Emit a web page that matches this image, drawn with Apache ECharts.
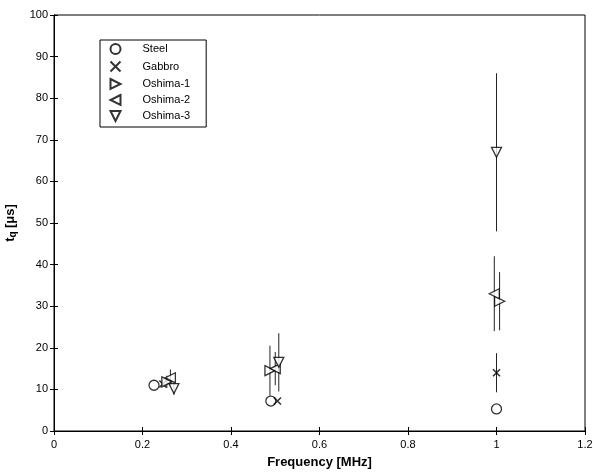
<!DOCTYPE html>
<html style="height: 100%">
<head>
    <meta charset="utf-8">
    <title>tq vs frequency</title>
</head>
<body style="height: 100%; margin: 0; background: #fff">
<div id="container" style="width: 593px; height: 475px"></div>
<script type="text/javascript" src="https://cdn.jsdelivr.net/npm/echarts@6/dist/echarts.min.js"></script>
<script type="text/javascript">
    var myChart = echarts.init(document.getElementById('container'));

    // frequency [MHz], tq [us], error half-length [us]
    var steelFreq = [0.226, 0.49, 1.0];
    var steelTq = [11, 7.2, 5.3];

    var gabbroFreq = [0.246, 0.505, 1.0];
    var gabbroTq = [11.3, 7.2, 14];
    var gabbroErr = [0, 0, 4.7];

    var oshima1Freq = [0.255, 0.488, 1.007];
    var oshima1Tq = [11.8, 14.5, 31.2];
    var oshima1Err = [1.5, 6, 7];

    var oshima2Freq = [0.263, 0.5, 0.995];
    var oshima2Tq = [12.8, 15, 33];
    var oshima2Err = [2, 4, 9];

    var oshima3Freq = [0.271, 0.508, 1.0];
    var oshima3Tq = [10.2, 16.5, 67];
    var oshima3Err = [1.5, 7, 19];

    var font = 'Liberation Sans';

    // marker shapes (triangles pointing right / left / down)
    var triRight = 'path://M0,0L10,5L0,10Z';
    var triLeft = 'path://M10,0L0,5L10,10Z';
    var triDown = 'path://M0,0L10,0L5,10Z';
    var cross = 'path://M0,0L10,10M10,0L0,10';

    function pts(xs, ys) {
        return xs.map(function (x, i) { return [x, ys[i]]; });
    }
    function bars(xs, ys, es) {
        var out = [];
        xs.forEach(function (x, i) {
            if (es[i] > 0) out.push([x, ys[i] - es[i], ys[i] + es[i]]);
        });
        return out;
    }

    var errData = []
        .concat(bars(gabbroFreq, gabbroTq, gabbroErr))
        .concat(bars(oshima1Freq, oshima1Tq, oshima1Err))
        .concat(bars(oshima2Freq, oshima2Tq, oshima2Err))
        .concat(bars(oshima3Freq, oshima3Tq, oshima3Err));

    var markStyle = { color: '#fff', borderColor: '#000', borderWidth: 1.3 };

    var option = {
        animation: false,
        backgroundColor: '#fff',
        grid: { left: 54, right: 8, top: 15, bottom: 44, outerBoundsMode: 'none', containLabel: false,
            show: true, borderColor: '#000', borderWidth: 1 },
        legend: {
            left: 100, top: 40,
            orient: 'vertical',
            backgroundColor: '#fff',
            borderColor: '#000', borderWidth: 1,
            padding: [3, 16, 5, 8],
            itemWidth: 10, itemHeight: 10, itemGap: 4,
            textStyle: { fontFamily: font, fontSize: 11, lineHeight: 10, color: '#000', padding: [0, 0, 0, 17] },
            data: [
                { name: 'Steel', icon: 'circle' },
                { name: 'Gabbro', icon: cross },
                { name: 'Oshima-1', icon: triRight },
                { name: 'Oshima-2', icon: triLeft },
                { name: 'Oshima-3', icon: triDown }
            ]
        },
        xAxis: [{
            type: 'value', min: 0, max: 1.2, interval: 0.2,
            name: 'Frequency [MHz]', nameLocation: 'middle', nameGap: 25,
            nameTextStyle: { fontFamily: font, fontSize: 13, fontWeight: 'bold', color: '#000' },
            axisLine: { onZero: false, lineStyle: { color: '#000' } },
            axisTick: { inside: true, length: 4, lineStyle: { color: '#000' } },
            axisLabel: { fontFamily: font, fontSize: 11, color: '#000', margin: 8,
                formatter: function (v) { return String(Math.round(v * 10) / 10); } },
            splitLine: { show: false }
        }, {
            type: 'value', min: 0, max: 1.2, interval: 0.2, position: 'top',
            axisLine: { lineStyle: { color: '#000' } },
            axisTick: { inside: true, length: 4, lineStyle: { color: '#000' } },
            axisLabel: { show: false }, splitLine: { show: false }
        }],
        yAxis: [{
            type: 'value', min: 0, max: 100, interval: 10,
            name: '{t|t}{q|q} {t|[μs]}', nameLocation: 'middle', nameGap: 28, nameRotate: 90,
            nameTextStyle: { rich: {
                t: { fontFamily: font, fontSize: 13, fontWeight: 'bold', color: '#000' },
                q: { fontFamily: font, fontSize: 10, fontWeight: 'bold', color: '#000', verticalAlign: 'bottom', padding: [6, 0, 0, 0] }
            } },
            axisLine: { lineStyle: { color: '#000' } },
            axisTick: { inside: true, length: 4, lineStyle: { color: '#000' } },
            axisLabel: { fontFamily: font, fontSize: 11, color: '#000', margin: 6 },
            splitLine: { show: false }
        }, {
            type: 'value', min: 0, max: 100, interval: 10, position: 'right',
            axisLine: { lineStyle: { color: '#000' } },
            axisTick: { inside: true, length: 4, lineStyle: { color: '#000' } },
            axisLabel: { show: false }, splitLine: { show: false }
        }],
        series: [{
            type: 'custom', name: 'err', z: 1,
            renderItem: function (params, api) {
                var p0 = api.coord([api.value(0), api.value(1)]);
                var p1 = api.coord([api.value(0), api.value(2)]);
                return { type: 'line', shape: { x1: p0[0], y1: p0[1], x2: p1[0], y2: p1[1] },
                    style: { stroke: '#222', lineWidth: 1 } };
            },
            data: errData
        }, {
            name: 'Steel', type: 'scatter', symbol: 'circle', symbolSize: 10,
            itemStyle: markStyle, data: pts(steelFreq, steelTq)
        }, {
            name: 'Gabbro', type: 'scatter', symbol: cross, symbolSize: 7,
            itemStyle: { color: 'none', borderColor: '#000', borderWidth: 1.6 }, data: pts(gabbroFreq, gabbroTq)
        }, {
            name: 'Oshima-1', type: 'scatter', symbol: triRight, symbolSize: 10,
            itemStyle: markStyle, data: pts(oshima1Freq, oshima1Tq)
        }, {
            name: 'Oshima-2', type: 'scatter', symbol: triLeft, symbolSize: 10,
            itemStyle: markStyle, data: pts(oshima2Freq, oshima2Tq)
        }, {
            name: 'Oshima-3', type: 'scatter', symbol: triDown, symbolSize: 10,
            itemStyle: markStyle, data: pts(oshima3Freq, oshima3Tq)
        }]
    };
    myChart.setOption(option);
</script>
</body>
</html>
